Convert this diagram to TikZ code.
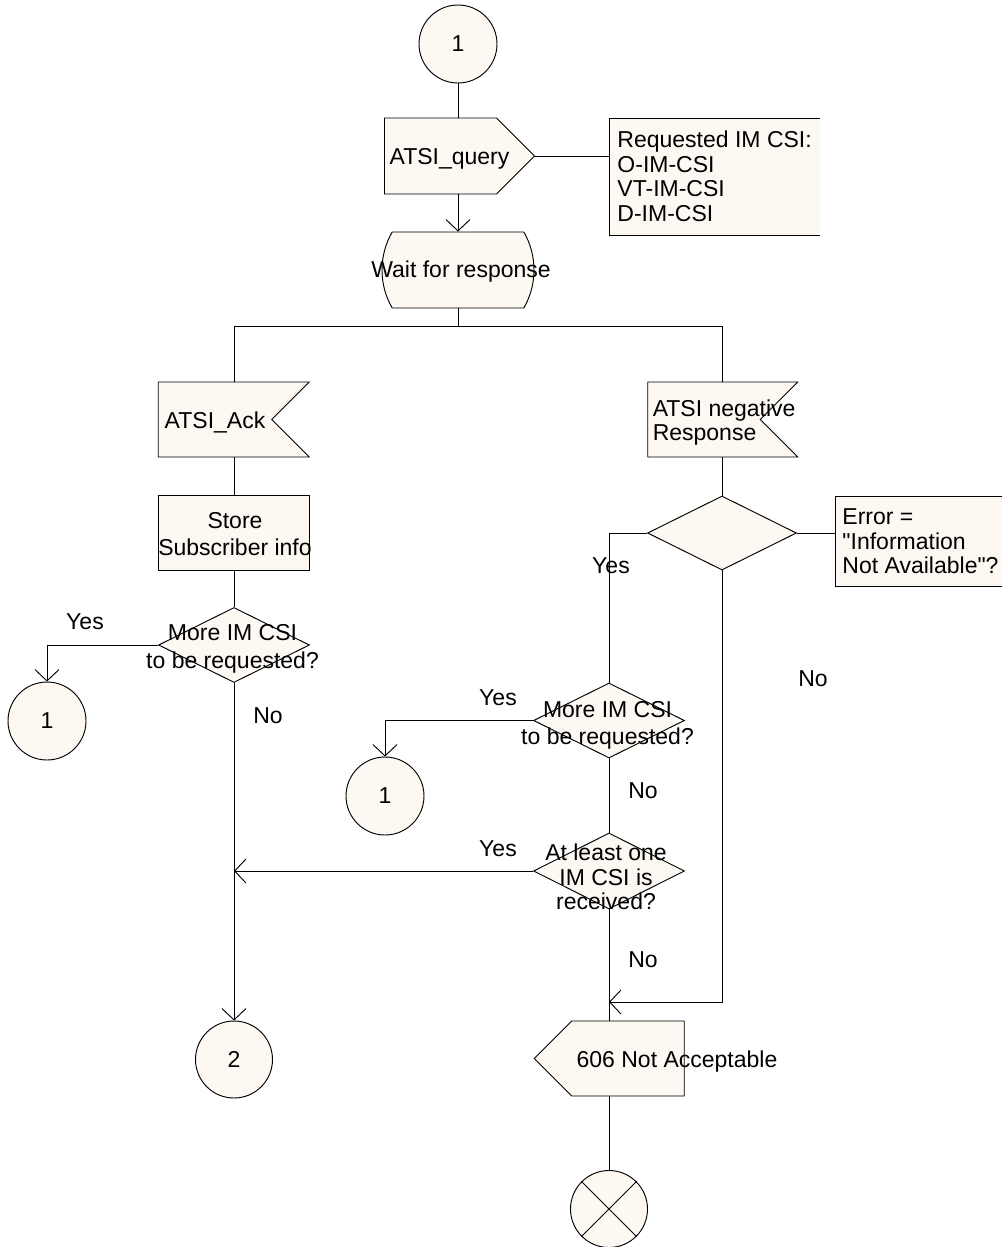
\documentclass[tikz,border=0pt]{standalone}
\usepackage{fontspec}
\setmainfont{Liberation Sans}[Ligatures=TeXOff]
\usetikzlibrary{shapes.geometric,shapes.symbols,shapes.misc,arrows.meta}
\definecolor{sdlfill}{RGB}{253,248,241}

\begin{document}
\begin{tikzpicture}[x=0.75pt, y=-0.75pt, line width=0.7pt,
    every node/.style={font=\fontsize{17.25pt}{18.4pt}\selectfont},
    sdl/.style={draw, fill=sdlfill, inner sep=0pt},
    conn/.style={sdl, circle, minimum size=58.5pt},
    task/.style={sdl, rectangle, minimum width=113.25pt, minimum height=56.25pt},
    decision/.style={sdl, diamond, minimum width=113.25pt, minimum height=56.25pt},
    sendright/.style={sdl, signal, signal to=east, minimum width=112.5pt, minimum height=57pt},
    sendleft/.style={sdl, signal, signal to=west, minimum width=112.5pt, minimum height=56.25pt},
    receive/.style={sdl, signal, signal to=nowhere, signal from=east, minimum width=113.25pt, minimum height=56.25pt},
    waitstate/.style={sdl, rounded rectangle, rounded rectangle arc length=60, minimum width=114pt, minimum height=57pt},
    note/.style={fill=sdlfill, rectangle, align=left, inner xsep=6pt, inner ysep=0pt},
    ask/.style={align=center, font=\fontsize{17.25pt}{20.6pt}\selectfont},
    flow/.style={-{Straight Barb[length=8.5pt,width=18pt]}}]
    \useasboundingbox (0,0) rectangle (1001,1247);

    \node [conn] (start) at (458,44) {1};
    \node [sendright, label={[xshift=6.75pt, yshift=-2pt]center:ATSI\_query}] (query) at (440.5,156) {};
    \node [note, anchor=west, minimum height=87pt] (req) at (609,176.5)
        {Requested IM CSI:\\O-IM-CSI\\VT-IM-CSI\\D-IM-CSI};
    \draw (req.north east) -- (req.north west) -- (req.south west) -- (req.south east);
    \node [waitstate, label={[xshift=2.25pt, yshift=-1.5pt]center:Wait for response}] (wait) at (458,270) {};

    \node [receive, label={[yshift=-2pt]center:ATSI\_Ack}] (ack) at (215,419.5) {};
    \node [task, label={[ask, xshift=0.75pt, yshift=-1.2pt]center:Store\\Subscriber info}] (store) at (234,532.5) {};
    \node [decision, label={[ask, xshift=-1.1pt, yshift=-3pt]center:More IM CSI\\to be requested?}] (more1) at (234,645) {};
    \node [conn] (c1a) at (47,721) {1};
    \node [conn, minimum size=57.75pt] (c2) at (234,1059.5) {2};

    \node [receive, minimum width=112.5pt, label={[anchor=west, align=left, inner sep=0pt, xshift=3.75pt, yshift=-2.25pt]west:ATSI negative\\Response}] (neg) at (704,419.5) {};
    \node [decision, minimum width=111.75pt, minimum height=55.5pt] (err) at (722,533) {};
    \node [note, anchor=west, inner xsep=5.25pt, minimum height=66.75pt] (errc) at (835,541.5)
        {Error =\\"Information\\Not Available"?};
    \draw (errc.north east) -- (errc.north west) -- (errc.south west) -- (errc.south east);
    \node [decision, label={[ask, xshift=-1.1pt, yshift=-3.7pt]center:More IM CSI\\to be requested?}] (more2) at (609,720.5) {};
    \node [conn] (c1b) at (385,796) {1};
    \node [decision, minimum height=57pt, label={[align=center, xshift=-2.25pt, yshift=-4.5pt]center:At least one\\IM CSI is\\received?}] (least) at (609,871) {};
    \node [sendleft, label={[xshift=36.75pt, yshift=-2.25pt]center:606 Not Acceptable}] (reply) at (628,1058.5) {};
    \node [conn, minimum size=57.75pt] (stop) at (609,1209) {};
    \draw (stop.north west) -- (stop.south east) (stop.north east) -- (stop.south west);
    \coordinate (join) at (609,1002);

    \node (yes1) at (85,622) {Yes};
    \node (no1) at (268,716) {No};
    \node (yes2) at (611,566) {Yes};
    \node (no2) at (813,679) {No};
    \node (yes3) at (498,698) {Yes};
    \node (no3) at (643,791) {No};
    \node (yes4) at (498,849) {Yes};
    \node (no4) at (643,960) {No};

    \draw (start) -- (start |- query.north);
    \draw (query.east) -- (query.east -| req.west);
    \draw [flow] (wait |- query.south) -- (wait);
    \draw (wait.south) -- ++(0,18) coordinate (fork);
    \draw (store |- ack.north) |- (fork) -| (err |- neg.north);
    \draw (store |- ack.south) -- (store);
    \draw (store) -- (more1);
    \draw [flow] (more1.west) -| (c1a.north);
    \draw [flow] (more1.south) -- (c2.north);
    \draw (err |- neg.south) -- (err);
    \draw (err.east) -- (err.east -| errc.west);
    \draw (err.west) -| (more2.north);
    \draw [flow] (more2.west) -| (c1b.north);
    \draw (more2) -- (least);
    \draw [flow] (least.west) -- (least.west -| more1.south);
    \draw [flow] (err.south) |- (join);
    \draw (least) -- (least |- reply.north);
    \draw (least |- reply.south) -- (stop);
\end{tikzpicture}
\end{document}
